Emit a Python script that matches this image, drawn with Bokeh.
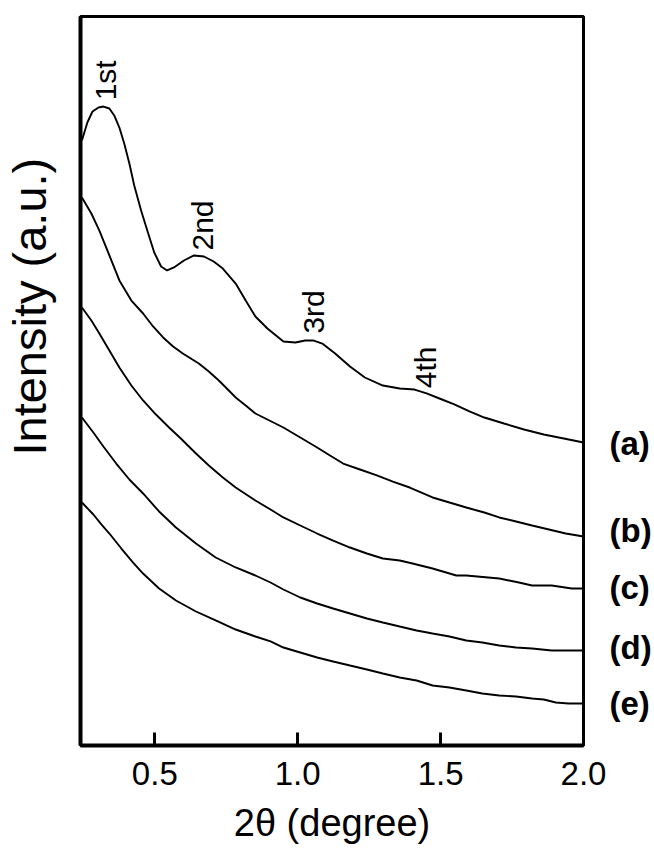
from bokeh.plotting import figure
from bokeh.models import Range1d, FixedTicker, LinearAxis, Label
from bokeh.embed import file_html
from bokeh.resources import INLINE
import math

# ---------------- data ----------------
two_theta_a = [0.245, 0.264, 0.282, 0.303, 0.320, 0.341, 0.358, 0.376, 0.393, 0.411,
               0.428, 0.452, 0.477, 0.498, 0.522, 0.543, 0.567, 0.602, 0.637, 0.672,
               0.706, 0.738, 0.783, 0.818, 0.852, 0.894, 0.950, 0.992, 1.026, 1.054,
               1.086, 1.131, 1.183, 1.235, 1.298, 1.357, 1.409, 1.451, 1.496, 1.548,
               1.601, 1.653, 1.722, 1.792, 1.861, 1.931, 2.000]
intensity_a = [82.99, 85.46, 86.97, 87.52, 87.65, 87.38, 86.42, 84.77, 82.58, 79.84,
               76.82, 73.39, 70.23, 67.63, 65.71, 65.16, 65.57, 66.53, 67.22, 67.08,
               66.39, 65.43, 63.37, 61.04, 58.85, 57.20, 55.42, 55.28, 55.56, 55.56,
               55.14, 53.77, 51.99, 50.48, 49.38, 48.97, 48.83, 48.29, 47.60, 46.78,
               45.82, 44.99, 44.17, 43.35, 42.66, 42.11, 41.56]

two_theta_b = [0.245, 0.278, 0.306, 0.341, 0.376, 0.418, 0.459, 0.494, 0.529, 0.564,
               0.598, 0.626, 0.654, 0.689, 0.724, 0.752, 0.783, 0.818, 0.852, 0.950,
               1.009, 1.068, 1.113, 1.159, 1.218, 1.277, 1.333, 1.392, 1.472, 1.531,
               1.590, 1.653, 1.705, 1.764, 1.820, 1.879, 1.938, 2.000]
intensity_b = [75.17, 72.98, 70.64, 67.22, 63.79, 61.04, 59.26, 57.48, 55.97, 54.73,
               53.77, 53.09, 52.40, 51.30, 50.07, 48.97, 47.74, 46.64, 45.54, 43.62,
               42.25, 40.88, 39.78, 38.68, 37.86, 37.04, 36.21, 35.39, 34.02, 33.33,
               32.65, 31.96, 31.28, 30.73, 30.18, 29.63, 29.08, 28.67]

two_theta_c = [0.245, 0.278, 0.306, 0.341, 0.376, 0.418, 0.459, 0.504, 0.550, 0.591,
               0.644, 0.689, 0.738, 0.783, 0.852, 0.905, 0.950, 1.009, 1.068, 1.124,
               1.183, 1.242, 1.298, 1.357, 1.402, 1.472, 1.555, 1.590, 1.705, 1.774,
               1.820, 1.889, 1.959, 2.000]
intensity_c = [60.08, 58.30, 56.52, 54.18, 51.85, 49.38, 47.33, 45.40, 43.62, 42.11,
               40.05, 38.41, 36.76, 35.39, 33.61, 32.37, 31.28, 30.18, 29.08, 28.12,
               27.16, 26.34, 25.65, 25.38, 24.97, 24.28, 23.32, 23.32, 22.91, 22.36,
               21.95, 21.95, 21.54, 21.54]

two_theta_d = [0.245, 0.285, 0.320, 0.365, 0.411, 0.459, 0.515, 0.574, 0.644, 0.713,
               0.783, 0.852, 0.905, 0.950, 1.009, 1.068, 1.124, 1.183, 1.242, 1.298,
               1.357, 1.416, 1.472, 1.531, 1.590, 1.646, 1.705, 1.764, 1.820, 1.889,
               1.948, 2.000]
intensity_d = [44.99, 42.94, 41.02, 38.68, 36.49, 34.57, 32.10, 29.90, 27.71, 25.79,
               24.42, 23.32, 22.36, 21.40, 20.30, 19.48, 18.79, 18.11, 17.42, 16.87,
               16.32, 15.78, 15.36, 14.95, 14.40, 14.13, 13.72, 13.44, 13.31, 13.03,
               13.03, 13.03]

two_theta_e = [0.245, 0.285, 0.313, 0.341, 0.383, 0.424, 0.459, 0.515, 0.574, 0.644,
               0.713, 0.783, 0.852, 0.905, 0.950, 1.009, 1.068, 1.124, 1.183, 1.242,
               1.298, 1.357, 1.416, 1.472, 1.531, 1.590, 1.646, 1.705, 1.764, 1.820,
               1.861, 1.903, 1.948, 2.000]
intensity_e = [33.33, 31.69, 30.32, 29.08, 27.02, 25.10, 23.59, 21.54, 19.89, 18.38,
               17.15, 15.91, 14.95, 14.27, 13.44, 12.76, 12.07, 11.52, 10.97, 10.43,
               9.88, 9.33, 8.92, 8.23, 7.96, 7.54, 7.13, 6.86, 6.72, 6.45,
               6.31, 5.90, 5.76, 5.76]

sample_labels = ["(a)", "(b)", "(c)", "(d)", "(e)"]
peak_labels = ["1st", "2nd", "3rd", "4th"]
x_ticks = [0.5, 1.0, 1.5, 2.0]
x_tick_labels = ["0.5", "1.0", "1.5", "2.0"]
y_title = "Intensity (a.u.)"
x_title = "2\u03b8 (degree)"

# ---------------- figure ----------------
FONT = "Liberation Sans"

p = figure(width=654, height=849, output_backend="svg", toolbar_location=None,
           x_range=Range1d(0.24, 2.0), y_range=Range1d(0, 100),
           min_border_left=78, min_border_right=68, min_border_top=16, min_border_bottom=104)

p.background_fill_color = "white"
p.border_fill_color = "white"
p.outline_line_color = "black"
p.outline_line_width = 3
p.grid.visible = False

xa = p.xaxis[0]
xa.ticker = FixedTicker(ticks=x_ticks)
xa.major_label_overrides = {t: s for t, s in zip(x_ticks, x_tick_labels)}
xa.major_tick_in = 13
xa.major_tick_out = 0
xa.major_tick_line_width = 3
xa.minor_tick_line_color = None
xa.axis_line_width = 4
xa.major_label_text_font = FONT
xa.major_label_text_font_size = "33px"
xa.major_label_text_color = "black"
xa.major_label_standoff = 16
xa.axis_label = x_title
xa.axis_label_text_font = FONT
xa.axis_label_text_font_size = "38px"
xa.axis_label_text_font_style = "normal"
xa.axis_label_text_color = "black"
xa.axis_label_standoff = 14

# left axis: no ticks; its single (rotated) tick label serves as the axis title,
# placed above the frame centre as in the reference
y_title_level = 60.2
ya = p.yaxis[0]
ya.ticker = FixedTicker(ticks=[y_title_level])
ya.major_label_overrides = {y_title_level: y_title}
ya.major_label_orientation = "vertical"
ya.major_tick_line_color = None
ya.minor_tick_line_color = None
ya.major_label_text_font = FONT
ya.major_label_text_font_size = "47px"
ya.major_label_text_color = "black"
ya.major_label_standoff = 18
ya.axis_line_width = 4

# right-hand sample labels as an axis whose ticks sit at the curve ends
label_levels = [41.4, 29.5, 21.7, 13.4, 5.8]
ra = LinearAxis(ticker=FixedTicker(ticks=label_levels),
                major_label_overrides={v: s for v, s in zip(label_levels, sample_labels)})
ra.axis_line_color = None
ra.major_tick_line_color = None
ra.minor_tick_line_color = None
ra.major_label_text_font = FONT
ra.major_label_text_font_size = "33px"
ra.major_label_text_font_style = "bold"
ra.major_label_text_color = "black"
ra.major_label_standoff = 20
p.add_layout(ra, "right")

series = [(two_theta_a, intensity_a), (two_theta_b, intensity_b),
          (two_theta_c, intensity_c), (two_theta_d, intensity_d),
          (two_theta_e, intensity_e)]
for xs, ys in series:
    p.line(xs, ys, line_color="black", line_width=1.9)

# peak order labels (rotated)
peak_pos = [(0.327, 88.5), (0.668, 67.9), (1.054, 56.5), (1.447, 49.0)]
for lab, (px, py) in zip(peak_labels, peak_pos):
    p.add_layout(Label(x=px, y=py, text=lab, angle=math.pi / 2, text_font=FONT,
                       text_font_size="30px", text_color="black",
                       text_align="left", text_baseline="middle"))

open("out.html", "w").write(file_html(p, INLINE))
